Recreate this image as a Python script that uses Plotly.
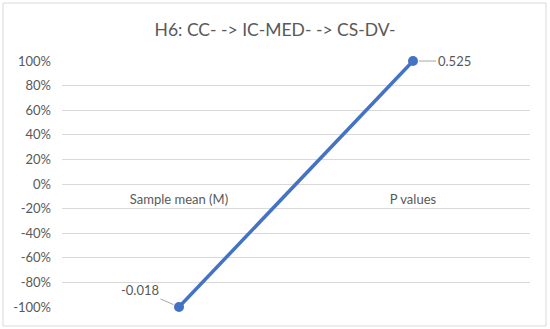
import plotly.graph_objects as go

title = "H6: CC- -> IC-MED- -> CS-DV-"
categories = ["Sample mean (M)", "P values"]
values = [-0.018, 0.525]
label_texts = ["-0.018", "0.525"]
tick_vals = [-1.0, -0.8, -0.6, -0.4, -0.2, 0.0, 0.2, 0.4, 0.6, 0.8, 1.0]
tick_text = ["-100%", "-80%", "-60%", "-40%", "-20%", "0%", "20%", "40%", "60%", "80%", "100%"]

# 100% stacked line: each value as share of its category total (single series)
shares = [v / abs(v) if v != 0 else 0 for v in values]

W, H = 550, 329
L, R, T, B = 62, 20, 61, 22
pw, ph = W - L - R, H - T - B

def px_x(p):
    return (p - L) / pw

def px_y(p):
    return (H - B - p) / ph

FONT = "Lato"
GRAY = "#595959"
BLUE = "#4472C4"

fig = go.Figure()
fig.add_trace(go.Scatter(
    x=categories, y=shares, mode="lines+markers",
    line=dict(color=BLUE, width=3.5),
    marker=dict(color=BLUE, size=10),
    cliponaxis=False,
    hoverinfo="skip", showlegend=False,
))

offsets = [(-39, -17), (41, 0)]
for c, s, t, (ax, ay) in zip(categories, shares, label_texts, offsets):
    fig.add_annotation(
        x=c, y=s, xref="x", yref="y", text=t, showarrow=True,
        ax=ax, ay=ay, arrowhead=0, arrowwidth=1, arrowcolor="#A6A6A6",
        standoff=6, font=dict(family=FONT, size=13, color=GRAY),
    )

fig.add_shape(type="rect", xref="paper", yref="paper",
              x0=px_x(3), x1=px_x(546), y0=px_y(326), y1=px_y(3),
              line=dict(color="#D9D9D9", width=1))

fig.update_layout(
    width=W, height=H,
    margin=dict(l=L, r=R, t=T, b=B),
    paper_bgcolor="white", plot_bgcolor="white",
    title=dict(text=title, x=0.5, xanchor="center", y=1 - 30 / H, yanchor="middle",
               font=dict(family=FONT, size=17.5, color=GRAY)),
    xaxis=dict(type="category", range=[-0.5, 1.5], anchor="free", position=0.5,
               showgrid=False, showline=False, ticks="", zeroline=False,
               tickfont=dict(family=FONT, size=13, color=GRAY),
               ticklabelstandoff=6),
    yaxis=dict(range=[-1, 1], tickvals=tick_vals, ticktext=tick_text,
               showgrid=True, gridcolor="#D9D9D9", gridwidth=1,
               zeroline=True, zerolinecolor="#D9D9D9", zerolinewidth=1,
               showline=False, ticks="", ticklabelstandoff=10,
               tickfont=dict(family=FONT, size=13, color=GRAY)),
    font=dict(family=FONT, color=GRAY),
)

fig.write_html("out.html", config={"displayModeBar": False, "staticPlot": True},
               post_script="document.body.style.margin='0px';")
